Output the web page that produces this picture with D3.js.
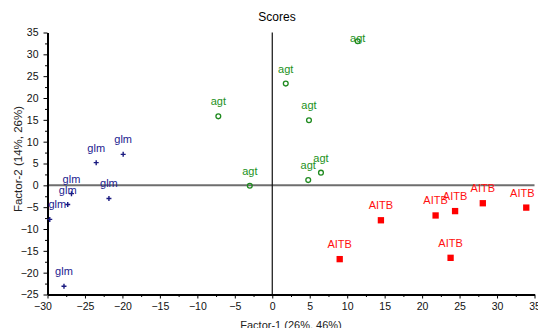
<!DOCTYPE html>
<html>
<head>
<meta charset="utf-8">
<script src="https://cdn.jsdelivr.net/npm/d3@7"></script>
<style>
  body { margin: 0; background: #fff; }
  svg { display: block; }
  text { font-family: "Liberation Sans", Arial, sans-serif; }
  .tick text { font-family: "Liberation Sans Narrow", "Liberation Sans", Arial, sans-serif; font-size: 10.5px; fill: #111; }
</style>
</head>
<body>
<svg></svg>
<script>
// scores
const groups = ["glm", "agt", "AITB"];
const glmX = [-23.5, -19.9, -26.8, -27.3, -29.7, -21.8, -27.8];
const glmY = [5.2, 7.1, -1.9, -4.4, -7.8, -3.0, -23.1];
const agtX = [-7.2, -3.0, 1.8, 4.9, 11.4, 4.8, 6.5];
const agtY = [15.8, -0.1, 23.3, 14.9, 33.0, 1.2, 2.9];
const aitbX = [14.5, 9.0, 21.8, 24.4, 28.1, 33.9, 23.8];
const aitbY = [-8.0, -16.9, -6.9, -5.9, -4.1, -5.1, -16.6];
const xTicks = d3.range(-30, 36, 5);
const yTicks = d3.range(-25, 36, 5);
const colors = { glm: "#22228f", agt: "#229122", AITB: "#ff1010" };

const W = 538, H = 328;
const plotL = 47.5, plotR = 534.5, plotT = 32.5, plotB = 294.5;

const svg = d3.select("svg").attr("width", W).attr("height", H);

const x = d3.scaleLinear().domain([-30, 35]).range([plotL, plotR]);
const y = d3.scaleLinear().domain([-25, 35]).range([plotB, plotT]);

const data = [];
[[glmX, glmY], [agtX, agtY], [aitbX, aitbY]].forEach(([xs, ys], gi) => {
  xs.forEach((v, i) => data.push({ group: groups[gi], x: v, y: ys[i] }));
});

// title
svg.append("text")
  .attr("x", 277).attr("y", 21)
  .attr("text-anchor", "middle")
  .style("font-size", "12px")
  .attr("fill", "#000")
  .text("Scores");

// zero lines
svg.append("line")
  .attr("x1", plotL).attr("x2", plotR)
  .attr("y1", y(0)).attr("y2", y(0))
  .attr("stroke", "#6e6e6e").attr("stroke-width", 2);
svg.append("line")
  .attr("x1", x(0)).attr("x2", x(0))
  .attr("y1", plotT).attr("y2", plotB)
  .attr("stroke", "#111").attr("stroke-width", 1.2);

// minor ticks
const xMinor = xTicks.slice(0, -1).map(d => d + 2.5);
const yMinor = yTicks.slice(0, -1).map(d => d + 2.5);
svg.append("g")
  .attr("transform", `translate(0,${plotB})`)
  .call(d3.axisBottom(x).tickValues(xMinor).tickSize(2.5).tickFormat(""))
  .call(g => g.select(".domain").remove());
svg.append("g")
  .attr("transform", `translate(${plotL},0)`)
  .call(d3.axisLeft(y).tickValues(yMinor).tickSize(2.5).tickFormat(""))
  .call(g => g.select(".domain").remove());

// main axes
const xAxis = svg.append("g")
  .attr("transform", `translate(0,${plotB})`)
  .call(d3.axisBottom(x).tickValues(xTicks).tickSize(4).tickSizeOuter(0).tickPadding(4));
xAxis.select(".domain").attr("stroke-width", 2);
xAxis.selectAll(".tick text").filter(d => d === -30).attr("dx", "-5");

const yAxis = svg.append("g")
  .attr("transform", `translate(${plotL},0)`)
  .call(d3.axisLeft(y).tickValues(yTicks).tickSize(4).tickSizeOuter(0).tickPadding(5));
yAxis.select(".domain").attr("stroke-width", 2);

// axis titles
svg.append("text")
  .attr("x", (plotL + plotR) / 2).attr("y", 329)
  .attr("text-anchor", "middle")
  .style("font-size", "11px")
  .attr("fill", "#222")
  .text("Factor-1 (26%, 46%)");
svg.append("text")
  .attr("transform", `translate(22,159) rotate(-90)`)
  .attr("text-anchor", "middle")
  .style("font-size", "11.5px")
  .attr("fill", "#222")
  .text("Factor-2 (14%, 26%)");

// markers
const pts = svg.append("g");
pts.selectAll(".glm").data(data.filter(d => d.group === "glm"))
  .join("path")
  .attr("class", "glm")
  .attr("d", d => `M${x(d.x) - 2.5},${y(d.y)}h5M${x(d.x)},${y(d.y) - 2.5}v5`)
  .attr("stroke", "#1a1a80").attr("stroke-width", 1.4).attr("fill", "none");
pts.selectAll(".agt").data(data.filter(d => d.group === "agt"))
  .join("circle")
  .attr("class", "agt")
  .attr("cx", d => x(d.x)).attr("cy", d => y(d.y)).attr("r", 2.4)
  .attr("stroke", "#1f8a1f").attr("stroke-width", 1.3).attr("fill", "none");
pts.selectAll(".aitb").data(data.filter(d => d.group === "AITB"))
  .join("path")
  .attr("class", "aitb")
  .attr("transform", d => `translate(${x(d.x)},${y(d.y)})`)
  .attr("d", d3.symbol(d3.symbolSquare, 40))
  .attr("fill", "#ff0000");

// point labels, kept inside the plot area
const labels = svg.append("g").selectAll("text").data(data)
  .join("text")
  .attr("text-anchor", "middle")
  .style("font-size", "11px")
  .attr("fill", d => colors[d.group])
  .text(d => d.group);
labels.each(function (d) {
  const w = this.getComputedTextLength();
  let cx = x(d.x);
  cx = Math.max(plotL + w / 2 + 1, Math.min(plotR - w / 2, cx));
  let by = y(d.y) - 11;
  by = Math.max(plotT + 9, by);
  d3.select(this).attr("x", cx).attr("y", by);
});
</script>
</body>
</html>
